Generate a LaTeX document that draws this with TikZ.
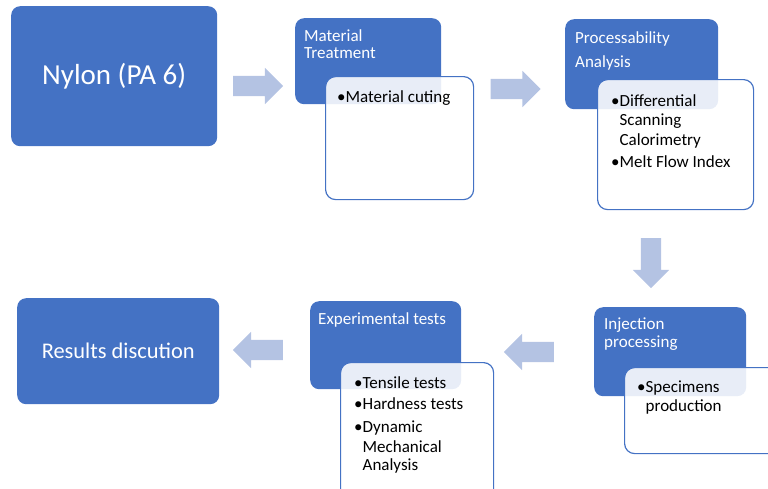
\documentclass[tikz,border=0pt]{standalone}
\usepackage{fontspec}
\setmainfont{Carlito}
\usetikzlibrary{shapes.arrows}
\definecolor{boxblue}{HTML}{4472C4}
\definecolor{arrowblue}{HTML}{B4C3E3}
\newcommand{\bul}{•}
\newcommand{\ind}{\phantom{•}}
\begin{document}
\begin{tikzpicture}[x=1pt,y=-1pt,
  bluebox/.style={fill=boxblue, rounded corners=9pt, inner sep=0pt, anchor=north west},
  whitebox/.style={draw=boxblue, line width=1.2pt, fill=white, fill opacity=0.88, text opacity=1, rounded corners=10pt, inner sep=0pt, anchor=north west},
  head/.style={text=white, font=\fontsize{17}{17}\selectfont, align=left, inner sep=0pt, anchor=north west},
  lst/.style={text=black, font=\fontsize{17}{20}\selectfont, align=left, inner sep=0pt, anchor=north west},
  bigarrow/.style={single arrow, fill=arrowblue, inner sep=10pt, minimum height=50pt, minimum width=36pt, single arrow head extend=8pt, single arrow tip angle=90}]
\useasboundingbox (0,0) rectangle (768,488);
\clip (0,0) rectangle (768,488);
% Nylon
\node[bluebox, minimum width=206pt, minimum height=140pt] (nylon) at (11,6) {};
\node[text=white, font=\fontsize{29}{29}\selectfont] (nylont) at (nylon.center) {Nylon (PA 6)};
% Material treatment
\node[bluebox, minimum width=146pt, minimum height=86pt] (mt) at (295,18) {};
\node[whitebox, minimum width=148pt, minimum height=123pt] (mtw) at (325,76) {};
\node[head] (mtt) at (304,29) {Material\\Treatment};
\node[lst] (mtl) at (337,90) {\bul Material cuting};
% Processability
\node[bluebox, minimum width=153pt, minimum height=90pt] (pa) at (565,19) {};
\node[whitebox, minimum width=156pt, minimum height=130pt] (paw) at (597,79) {};
\node[head, font=\fontsize{17}{24}\selectfont] (pat) at (575,31) {Processability\\Analysis};
\node[lst] (pal) at (611,94) {\bul Differential\\[-1pt]\ind Scanning\\\ind Calorimetry\\[2pt]\bul Melt Flow Index};
% Injection
\node[bluebox, minimum width=152pt, minimum height=89pt] (ip) at (594,307) {};
\node[whitebox, minimum width=160pt, minimum height=86pt] (ipw) at (624,367) {};
\node[head, font=\fontsize{17}{18}\selectfont] (ipt) at (604,318) {Injection\\processing};
\node[lst, font=\fontsize{17}{19}\selectfont] (ipl) at (637,381) {\bul Specimens\\\ind production};
% Experimental
\node[bluebox, minimum width=151pt, minimum height=88pt] (et) at (310,301) {};
\node[whitebox, minimum width=153pt, minimum height=140pt] (etw) at (340,362) {};
\node[head] (ett) at (318,312) {Experimental tests};
\node[lst] (etl) at (354,376) {\bul Tensile tests\\[1pt]\bul Hardness tests\\[3pt]\bul Dynamic\\\ind Mechanical\\[-2pt]\ind Analysis};
% Results
\node[bluebox, minimum width=202pt, minimum height=106pt] (rd) at (17,298) {};
\node[text=white, font=\fontsize{22.4}{22.4}\selectfont] (rdt) at (rd.center) {Results discution};
% arrows
\node[bigarrow] (a1) at (253,86) {};
\node[bigarrow] (a2) at (510.5,89) {};
\node[bigarrow, shape border rotate=270] (a3) at (651,258) {};
\node[bigarrow, shape border rotate=180] (a4) at (534,352) {};
\node[bigarrow, shape border rotate=180] (a5) at (263,350) {};
\end{tikzpicture}
\end{document}
